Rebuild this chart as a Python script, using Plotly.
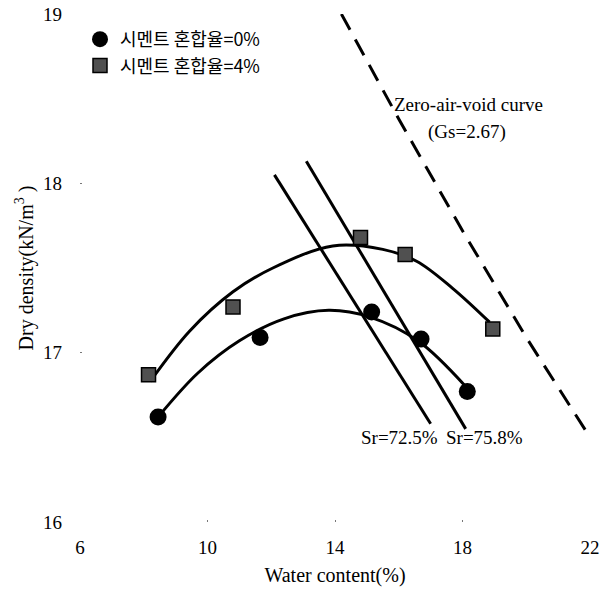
import plotly.graph_objects as go

# Measured data
w_c0 = [8.45, 11.65, 15.15, 16.7, 18.15]
d_c0 = [16.62, 17.09, 17.24, 17.08, 16.77]
w_c4 = [8.15, 10.8, 14.8, 16.2, 18.95]
d_c4 = [16.87, 17.27, 17.68, 17.58, 17.14]

# Fitted curves
fit0_w = [8.45, 9.7, 11.0, 12.4, 13.8, 15.1, 16.6, 18.1]
fit0_d = [16.62, 16.88, 17.07, 17.2, 17.25, 17.21, 17.07, 16.8]
fit4_w = [8.2, 9.45, 10.8, 12.05, 13.93, 15.5, 16.56, 17.69, 18.85]
fit4_d = [16.83, 17.13, 17.36, 17.5, 17.63, 17.61, 17.54, 17.38, 17.18]

# Saturation lines
sr725_w = [12.1, 17.0]
sr725_d = [18.05, 16.58]
sr758_w = [13.1, 18.1]
sr758_d = [18.13, 16.55]

# Zero-air-void curve
zav_w = [14.2, 16.0, 18.0, 20.0, 22.0]
zav_d = [19.0, 18.38, 17.72, 17.09, 16.5]

x_ticks = [6, 10, 14, 18, 22]
y_ticks = [16, 17, 18, 19]

serif = "Liberation Serif"
kr = "Noto Sans CJK KR"

# pixel geometry of the plot area
L, R, T, B = 80, 590, 14, 522
W, H = 609, 593

fig = go.Figure()

fig.add_trace(go.Scatter(x=fit0_w, y=fit0_d, mode="lines", line=dict(color="black", width=3, shape="spline"), showlegend=False))
fig.add_trace(go.Scatter(x=fit4_w, y=fit4_d, mode="lines", line=dict(color="black", width=3, shape="spline"), showlegend=False))
fig.add_trace(go.Scatter(x=sr725_w, y=sr725_d, mode="lines", line=dict(color="black", width=3), showlegend=False))
fig.add_trace(go.Scatter(x=sr758_w, y=sr758_d, mode="lines", line=dict(color="black", width=3), showlegend=False))
fig.add_trace(go.Scatter(x=zav_w, y=zav_d, mode="lines", line=dict(color="black", width=3, dash="18px,11px"), showlegend=False))

fig.add_trace(go.Scatter(x=w_c0, y=d_c0, mode="markers", name="시멘트 혼합율=0%",
                         marker=dict(symbol="circle", size=17, color="black")))
fig.add_trace(go.Scatter(x=w_c4, y=d_c4, mode="markers", name="시멘트 혼합율=4%",
                         marker=dict(symbol="square", size=14, color="#505050", line=dict(color="black", width=1.5))))


def px_x(p):
    return (p - L) / float(R - L)


def px_y(p):
    return (B - p) / float(B - T)


annots = [
    ("Zero-air-void curve", 468, 104),
    ("(Gs=2.67)", 467, 132),
    ("Sr=72.5%", 399, 437),
    ("Sr=75.8%", 484, 437),
]
for t, xp, yp in annots:
    fig.add_annotation(x=px_x(xp), y=px_y(yp), xref="x domain", yref="y domain", text=t,
                       xanchor="center", yanchor="middle",
                       showarrow=False, font=dict(family=serif, size=19, color="black"))

fig.update_layout(
    width=W, height=H,
    margin=dict(l=L, r=W - R, t=T, b=H - B, autoexpand=False),
    paper_bgcolor="white", plot_bgcolor="white",
    legend=dict(x=px_x(80), y=px_y(21), xanchor="left", yanchor="top",
                font=dict(family=kr, size=18, color="black"), bgcolor="rgba(0,0,0,0)",
                itemwidth=30, tracegroupgap=4),
    xaxis=dict(range=[6, 22], tickvals=x_ticks, showgrid=False, zeroline=False, showline=False,
               ticks="inside", ticklen=2, tickcolor="#777",
               tickfont=dict(family=serif, size=19, color="black"), ticklabelstandoff=12,
               title=dict(text="Water content(%)", font=dict(family=serif, size=20, color="black"), standoff=10)),
    yaxis=dict(range=[16, 19], tickvals=y_ticks, showgrid=False, zeroline=False, showline=False,
               ticks="inside", ticklen=2, tickcolor="#777",
               tickfont=dict(family=serif, size=19, color="black"), ticklabelstandoff=17,
               title=dict(text="Dry density(kN/m<sup>3</sup> )", font=dict(family=serif, size=20, color="black"), standoff=4)),
)

fig.write_html("out.html", config={"displayModeBar": False},
               post_script="document.body.style.margin='0px';")
